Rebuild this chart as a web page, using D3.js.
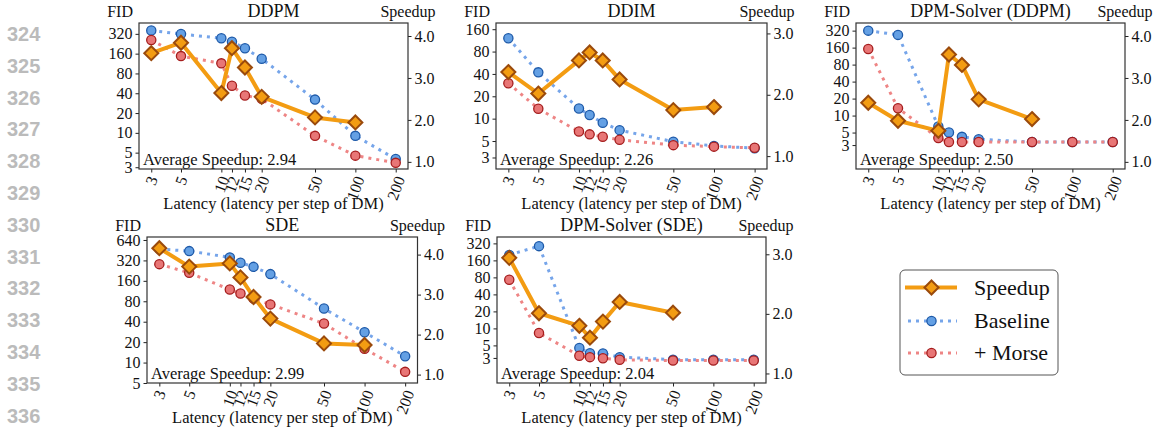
<!DOCTYPE html>
<html>
<head>
<meta charset="utf-8">
<script src="https://cdn.jsdelivr.net/npm/d3@7"></script>
<style>
  body { margin: 0; background: #fff; }
  svg { display: block; }
  text { font-family: "Liberation Serif", "Times New Roman", serif; fill: #111; }
</style>
</head>
<body>
<div id="data-vis"></div>
<script>
//DATA
//Latency steps (x axis, shared by all panels)
const latency = [3, 5, 10, 12, 15, 20, 50, 100, 200];

//Panel titles
const panelTitles = ["DDPM", "DDIM", "DPM-Solver (DDPM)", "SDE", "DPM-Solver (SDE)"];

//Average speedup labels
const avgSpeedup = ["2.94", "2.26", "2.50", "2.99", "2.04"];

//FID of the baseline, one value per latency
const ddpmBaseline   = [360, 318, 274, 243, 193, 134, 32, 9, 4.0];
const ddimBaseline   = [121, 42, 13.7, 11.2, 8.8, 7.0, 4.9, 4.3, 4.0];
const dpmDdpmBaseline = [320, 269, 6.4, 5.0, 4.2, 3.8, 3.4, 3.4, 3.4];
const sdeBaseline    = [470, 439, 354, 295, 257, 201, 62.5, 28, 12.4];
const dpmSdeBaseline = [200, 286, 4.5, 3.65, 3.6, 3.1, 2.8, 2.8, 2.8];

//FID with Morse
const ddpmMorse   = [258, 147, 114, 52, 37, 33, 9.0, 4.5, 3.5];
const ddimMorse   = [30, 13.6, 6.7, 6.15, 5.7, 5.2, 4.4, 4.2, 4.05];
const dpmDdpmMorse = [151, 13.5, 4.0, 3.4, 3.4, 3.4, 3.4, 3.4, 3.4];
const sdeMorse    = [282, 210, 119, 104, 88, 72, 37.6, 16, 7.3];
const dpmSdeMorse = [72.5, 8.3, 3.27, 3.1, 2.97, 2.78, 2.7, 2.7, 2.7];

//Speedup (shorter series, starting at latency 3)
const ddpmSpeedup   = [3.59, 3.84, 2.64, 3.71, 3.25, 2.55, 2.06, 1.94];
const ddimSpeedup   = [2.37, 2.02, 2.56, 2.69, 2.56, 2.25, 1.75, 1.80];
const dpmDdpmSpeedup = [2.41, 1.98, 1.74, 3.56, 3.31, 2.49, 2.02];
const sdeSpeedup    = [4.16, 3.70, 3.78, 3.43, 2.94, 2.40, 1.78, 1.74];
const dpmSdeSpeedup = [2.94, 2.01, 1.80, 1.60, 1.87, 2.20, 2.02];

//Tick labels
const fidTicks = [
    [3, 5, 10, 20, 40, 80, 160, 320],
    [3, 5, 10, 20, 40, 80, 160],
    [3, 5, 10, 20, 40, 80, 160, 320],
    [5, 10, 20, 40, 80, 160, 320, 640],
    [3, 5, 10, 20, 40, 80, 160, 320]
];
const speedupTicks = [
    [1, 2, 3, 4],
    [1, 2, 3],
    [1, 2, 3, 4],
    [1, 2, 3, 4],
    [1, 2, 3]
];

//Legend entries
const legendLabels = ["Speedup", "Baseline", "+ Morse"];

//Page line numbers
const lineNumbers = ["324", "325", "326", "327", "328", "329", "330", "331", "332", "333", "334", "335", "336"];

//LAYOUT
const w = 1155, h = 427;
//Panel boxes [left, top, right, bottom]
const boxes = [
    [139, 23, 408, 169],
    [496, 23, 767, 169],
    [856, 23, 1125, 169],
    [147, 237, 417.5, 383],
    [497, 237, 766, 383]
];
const xLim = [2.43, 247];
const fidLim = [[2.82, 468], [2.1, 194], [1.13, 437], [5, 708], [1.08, 415]];
const spLim = [[0.83, 4.31], [0.79, 3.17], [0.83, 4.31], [0.79, 4.44], [0.84, 3.29]];

const baselines = [ddpmBaseline, ddimBaseline, dpmDdpmBaseline, sdeBaseline, dpmSdeBaseline];
const morses = [ddpmMorse, ddimMorse, dpmDdpmMorse, sdeMorse, dpmSdeMorse];
const speedups = [ddpmSpeedup, ddimSpeedup, dpmDdpmSpeedup, sdeSpeedup, dpmSdeSpeedup];

//Colours
const orange = "#f39c12", orangeEdge = "#9a4a0c";
const blueLine = "#76a5ea", blueFill = "#64a0e4", blueEdge = "#1d59a8";
const redLine = "#ee8585", redFill = "#e87676", redEdge = "#a51d1d";

const svg = d3.select("#data-vis").append("svg")
    .attr("width", w)
    .attr("height", h);

//Line numbers in the margin
svg.append("g").selectAll("text")
    .data(lineNumbers)
    .enter()
    .append("text")
    .attr("x", 7)
    .attr("y", (d, i) => 41 + i * 31.8)
    .style("font-family", "'Liberation Sans', Arial, sans-serif")
    .style("font-weight", "bold")
    .style("font-size", "20px")
    .style("fill", "#bbbbbb")
    .text(d => d);

function diamond(r) {
    return `M0,${-r}L${r},0L0,${r}L${-r},0Z`;
}

function drawPanel(i) {
    const [x0, y0, x1, y1] = boxes[i];
    const g = svg.append("g");

    const x = d3.scaleLog().domain(xLim).range([x0, x1]);
    const yF = d3.scaleLog().domain(fidLim[i]).range([y1, y0]);
    const yS = d3.scaleLinear().domain(spLim[i]).range([y1, y0]);

    //Left axis (FID)
    const left = g.append("g")
        .attr("transform", `translate(${x0},0)`)
        .call(d3.axisLeft(yF).tickValues(fidTicks[i]).tickFormat(d3.format("d"))
            .tickSize(3.5).tickPadding(3));
    //Right axis (Speedup)
    const right = g.append("g")
        .attr("transform", `translate(${x1},0)`)
        .call(d3.axisRight(yS).tickValues(speedupTicks[i]).tickFormat(d3.format(".1f"))
            .tickSize(3.5).tickPadding(3));
    //Bottom axis (latency)
    const bottom = g.append("g")
        .attr("transform", `translate(0,${y1})`)
        .call(d3.axisBottom(x).tickValues(latency).tickFormat(d3.format("d"))
            .tickSize(3.5).tickPadding(3));

    [left, right, bottom].forEach(a => {
        a.select(".domain").remove();
        a.selectAll("line").attr("stroke", "#222");
        a.selectAll("text")
            .style("font-family", "'Liberation Serif', serif")
            .style("font-size", "16px")
            .attr("fill", "#111");
    });

    //Rotate latency labels
    bottom.selectAll("text")
        .attr("y", 0)
        .attr("dy", "0.32em")
        .attr("text-anchor", "middle")
        .attr("transform", function() {
            const tl = this.getComputedTextLength();
            const a = 70 * Math.PI / 180;
            const hh = tl * Math.sin(a) + 12 * Math.cos(a);
            return `translate(0,${6 + hh / 2}) rotate(-70)`;
        });

    //Baseline
    const line = d3.line().x((d, j) => x(latency[j])).y(d => yF(d));
    g.append("path")
        .datum(baselines[i])
        .attr("d", line)
        .attr("fill", "none")
        .attr("stroke", blueLine)
        .attr("stroke-width", 3)
        .attr("stroke-dasharray", "3,5");
    g.append("g").selectAll("circle")
        .data(baselines[i])
        .enter()
        .append("circle")
        .attr("cx", (d, j) => x(latency[j]))
        .attr("cy", d => yF(d))
        .attr("r", 4.6)
        .attr("fill", blueFill)
        .attr("stroke", blueEdge)
        .attr("stroke-width", 1.3);

    //+ Morse
    g.append("path")
        .datum(morses[i])
        .attr("d", line)
        .attr("fill", "none")
        .attr("stroke", redLine)
        .attr("stroke-width", 3)
        .attr("stroke-dasharray", "3,5");
    g.append("g").selectAll("circle")
        .data(morses[i])
        .enter()
        .append("circle")
        .attr("cx", (d, j) => x(latency[j]))
        .attr("cy", d => yF(d))
        .attr("r", 4.6)
        .attr("fill", redFill)
        .attr("stroke", redEdge)
        .attr("stroke-width", 1.3);

    //Average speedup note
    g.append("text")
        .attr("x", x0 + 4)
        .attr("y", y1 - 4)
        .style("font-size", "16.5px")
        .text("Average Speedup: " + avgSpeedup[i]);

    //Speedup (twin axis, on top)
    const sLine = d3.line().x((d, j) => x(latency[j])).y(d => yS(d));
    g.append("path")
        .datum(speedups[i])
        .attr("d", sLine)
        .attr("fill", "none")
        .attr("stroke", orange)
        .attr("stroke-width", 4)
        .attr("stroke-linejoin", "round");
    g.append("g").selectAll("path")
        .data(speedups[i])
        .enter()
        .append("path")
        .attr("transform", (d, j) => `translate(${x(latency[j])},${yS(d)})`)
        .attr("d", diamond(7))
        .attr("fill", orange)
        .attr("stroke", orangeEdge)
        .attr("stroke-width", 2);

    //Frame
    g.append("rect")
        .attr("x", x0).attr("y", y0)
        .attr("width", x1 - x0).attr("height", y1 - y0)
        .attr("fill", "none")
        .attr("stroke", "#333")
        .attr("stroke-width", 1.2);

    //Titles and axis labels
    g.append("text")
        .attr("x", (x0 + x1) / 2)
        .attr("y", y0 - 6)
        .attr("text-anchor", "middle")
        .style("font-size", "18px")
        .text(panelTitles[i]);
    g.append("text")
        .attr("x", x0 - 6)
        .attr("y", y0 - 6)
        .attr("text-anchor", "end")
        .style("font-size", "16px")
        .text("FID");
    g.append("text")
        .attr("x", x1)
        .attr("y", y0 - 6)
        .attr("text-anchor", "middle")
        .style("font-size", "16px")
        .text("Speedup");
    g.append("text")
        .attr("x", (x0 + x1) / 2)
        .attr("y", y1 + 40)
        .attr("text-anchor", "middle")
        .style("font-size", "16.5px")
        .text("Latency (latency per step of DM)");
}

d3.range(boxes.length).forEach(drawPanel);

//Legend
const lg = svg.append("g").attr("transform", "translate(900,270)");
lg.append("rect")
    .attr("width", 158).attr("height", 105).attr("rx", 5)
    .attr("fill", "#fff")
    .attr("stroke", "#555")
    .attr("stroke-width", 1);
const rowsY = [17.5, 51, 83];
legendLabels.forEach((label, k) => {
    const y = rowsY[k];
    const row = lg.append("g");
    if (k === 0) {
        row.append("line").attr("x1", 5).attr("x2", 57).attr("y1", y).attr("y2", y)
            .attr("stroke", orange).attr("stroke-width", 4);
        row.append("path").attr("transform", `translate(31.5,${y})`).attr("d", diamond(7))
            .attr("fill", orange).attr("stroke", orangeEdge).attr("stroke-width", 2);
    } else {
        const lc = k === 1 ? blueLine : redLine;
        row.append("line").attr("x1", 8).attr("x2", 57).attr("y1", y).attr("y2", y)
            .attr("stroke", lc).attr("stroke-width", 3).attr("stroke-dasharray", "3,5");
        row.append("circle").attr("cx", 31.5).attr("cy", y).attr("r", 4.6)
            .attr("fill", k === 1 ? blueFill : redFill)
            .attr("stroke", k === 1 ? blueEdge : redEdge).attr("stroke-width", 1.3);
    }
    row.append("text")
        .attr("x", 74)
        .attr("y", y + 7)
        .style("font-size", "22px")
        .text(label);
});
</script>
</body>
</html>
